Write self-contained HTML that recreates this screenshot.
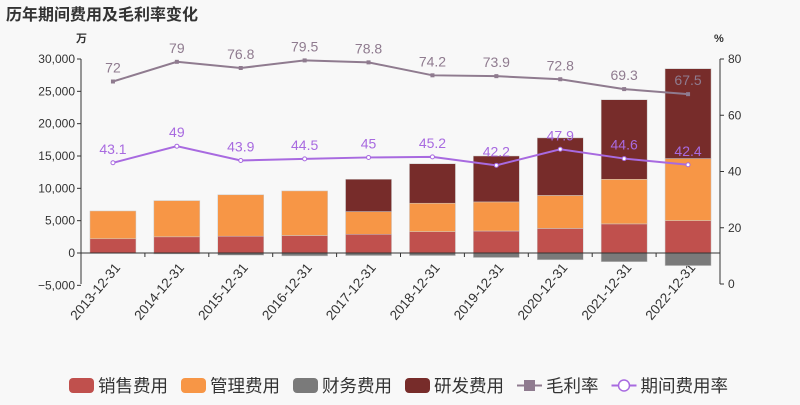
<!DOCTYPE html>
<html><head><meta charset="utf-8"><style>
body{margin:0;background:#f8f8f8;font-family:"Liberation Sans","Noto Sans CJK SC",sans-serif}
svg text{font-family:"Liberation Sans","Noto Sans CJK SC",sans-serif}
</style></head><body>
<svg id="c" width="800" height="400">
<text x="6" y="20" font-size="16" font-weight="bold" fill="#333">历年期间费用及毛利率变化</text>
</svg>
<script>
const categories=['2013-12-31','2014-12-31','2015-12-31','2016-12-31','2017-12-31','2018-12-31','2019-12-31','2020-12-31','2021-12-31','2022-12-31'];
const sales=[2200,2500,2600,2700,2900,3300,3400,3800,4500,5000];
const mgmt=[4300,5600,6400,6900,3500,4400,4500,5100,6900,9600];
const finance=[-50,-150,-350,-450,-400,-400,-700,-1050,-1350,-1950];
const rnd=[0,0,0,0,5000,6100,7100,8900,12300,13900];
const margin=[72,79,76.8,79.5,78.8,74.2,73.9,72.8,69.3,67.5];
const expRate=[43.1,49,43.9,44.5,45,45.2,42.2,47.9,44.6,42.4];
const leftTicks=[-5000,0,5000,10000,15000,20000,25000,30000];
const rightTicks=[0,20,40,60,80];
const svg=document.getElementById('c');const NS='http://www.w3.org/2000/svg';
function mk(t,a,txt){const e=document.createElementNS(NS,t);for(const k in a)e.setAttribute(k,a[k]);if(txt!=null)e.textContent=txt;svg.appendChild(e);return e;}
const X0=81,X1=720,band=(X1-X0)/categories.length;
const xc=i=>X0+band*(i+0.5);
const yL=v=>253-v*(253-59)/30000;
const yR=v=>284-v*(284-59)/80;
mk('line',{x1:X0,y1:59,x2:X0,y2:284,stroke:'#333'});
mk('line',{x1:X1,y1:59,x2:X1,y2:284,stroke:'#333'});
leftTicks.forEach(v=>{const y=yL(v);mk('line',{x1:X0-4,y1:y,x2:X0,y2:y,stroke:'#333'});
const t=mk('text',{x:X0-6,y:y+4,'text-anchor':'end','font-size':12,fill:'#333'},v.toLocaleString('en-US').replace('-','−'));
});
rightTicks.forEach(v=>{const y=yR(v);mk('line',{x1:X1,y1:y,x2:X1+4,y2:y,stroke:'#333'});
const t=mk('text',{x:X1+8,y:y+4,'font-size':12,fill:'#333'},String(v));
});
mk('text',{x:76,y:42,'font-size':11,'font-weight':'bold',fill:'#333'},'万');
mk('text',{x:714,y:42,'font-size':11,'font-weight':'bold',fill:'#333'},'%');
const bw=46;
categories.forEach((c,i)=>{
 const x=xc(i);
 mk('line',{x1:X0+band*i,y1:253,x2:X0+band*i,y2:257,stroke:'#333'});
 const t=mk('text',{x:x+8,y:268,'text-anchor':'end','font-size':13.5,fill:'#333',transform:`rotate(-50 ${x+8} 268)`},c);
 
 let base=0;
 [[sales,'#c0504d','bar-sales'],[mgmt,'#f79646','bar-management'],[rnd,'#772c2a','bar-rnd']].forEach(([arr,col,nm])=>{
  const v=arr[i];if(v<=0)return;
  const r=mk('rect',{x:x-bw/2,y:yL(base+v),width:bw,height:yL(base)-yL(base+v),fill:col,stroke:'#ccc','stroke-width':0.5});
  base+=v;});
 const f=finance[i];
 const r=mk('rect',{x:x-bw/2,y:253,width:bw,height:yL(f)-253,fill:'#7a7a7a',stroke:'#ccc','stroke-width':0.5});
 
});
mk('line',{x1:X0,y1:253,x2:X1,y2:253,stroke:'#333'});
function line(arr,col,nm,sq){
 const p=mk('polyline',{points:arr.map((v,i)=>xc(i)+','+yR(v)).join(' '),fill:'none',stroke:col,'stroke-width':2});
 
 arr.forEach((v,i)=>{const x=xc(i),y=yR(v);
  const m=sq?mk('rect',{x:x-2,y:y-2,width:4,height:4,fill:col}):mk('circle',{cx:x,cy:y,r:2,fill:'#fff',stroke:col});
  
  const t=mk('text',{x:x,y:y-9,'text-anchor':'middle','font-size':14,fill:col},String(v));
  });
}
line(margin,'#8f7b8f','gross-margin',true);
line(expRate,'#a86ae0','expense-rate',false);
const leg=[['销售费用','#c0504d','r'],['管理费用','#f79646','r'],['财务费用','#7a7a7a','r'],['研发费用','#772c2a','r'],['毛利率','#8f7b8f','l'],['期间费用率','#a86ae0','c']];
let lx=69;
leg.forEach(([n,col,t])=>{
 const g=document.createElementNS(NS,'g');svg.appendChild(g);
 
 const add=(tag,a,txt)=>{const e=document.createElementNS(NS,tag);for(const k in a)e.setAttribute(k,a[k]);if(txt)e.textContent=txt;g.appendChild(e);};
 if(t==='r')add('rect',{x:lx,y:378,width:25,height:15,rx:4,fill:col});
 else if(t==='l'){add('line',{x1:lx,y1:385.5,x2:lx+25,y2:385.5,stroke:col,'stroke-width':2});add('rect',{x:lx+7,y:380,width:11,height:11,fill:col});}
 else{add('line',{x1:lx,y1:385.5,x2:lx+25,y2:385.5,stroke:col,'stroke-width':2});add('circle',{cx:lx+12.5,cy:385.5,r:5.5,fill:'#fff',stroke:col,'stroke-width':1.5});}
 add('text',{x:lx+29,y:392,'font-size':17.5,fill:'#333'},n);
 lx+=29+n.length*17.5+13;
});
</script>
</body></html>
